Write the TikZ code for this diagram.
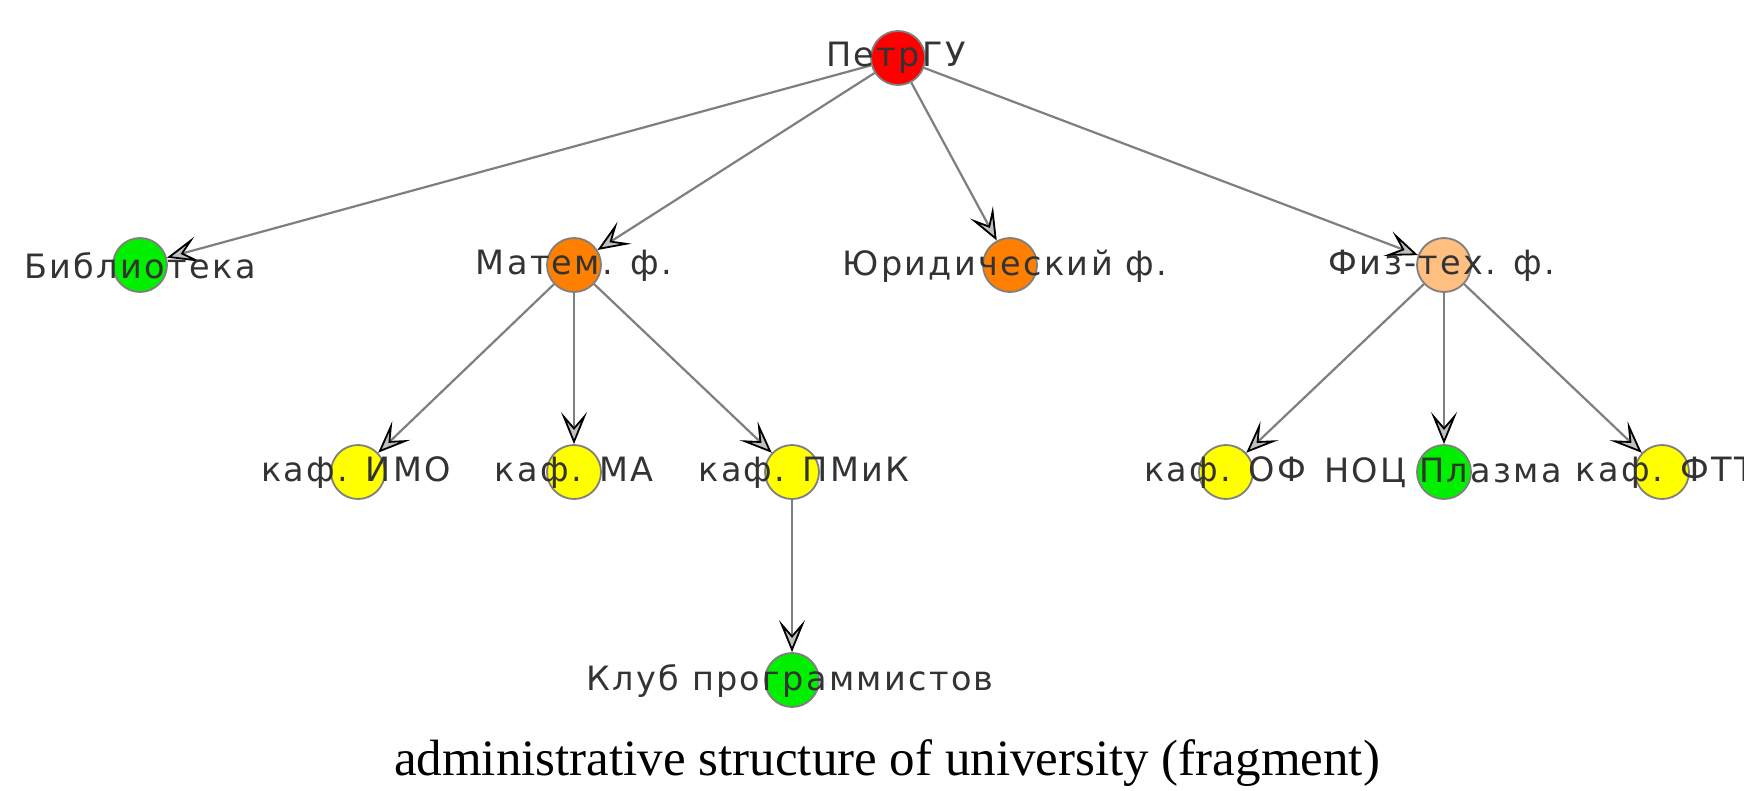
\documentclass[tikz,border=0pt]{standalone}
\usepackage{fontspec}
\setmainfont{Liberation Serif}
\newfontfamily\lblfont[LetterSpace=7]{DejaVu Sans}
\usetikzlibrary{arrows.meta}
\definecolor{nred}{HTML}{FF0000}
\definecolor{norange}{HTML}{FF8000}
\definecolor{npeach}{HTML}{FFBF80}
\definecolor{nyellow}{HTML}{FFFF00}
\definecolor{ngreen}{HTML}{00F000}
\definecolor{txt}{HTML}{333333}
\definecolor{edgec}{HTML}{7F7F7F}
\tikzset{
  dot/.style={circle, draw=edgec, line width=1.8pt, minimum size=54pt, inner sep=0pt},
  lbl/.style={font=\lblfont\fontsize{33.5}{36}\selectfont, text=txt, inner sep=0pt},
  edge/.style={draw=edgec, line width=2.2pt, -{Stealth[length=32pt, width=26pt, inset=15pt, color=black, fill=gray!50, line width=1.8pt]}},
}
\begin{document}
\begin{tikzpicture}[x=1pt,y=-1pt]
\useasboundingbox (0,0) rectangle (1744,790);
\clip (0,0) rectangle (1744,790);
\fill[white] (0,0) rectangle (1744,790);
% nodes (circles)
\node[dot, fill=nred]    (petr) at (898,58)  {};
\node[dot, fill=ngreen]  (bib)  at (140,265) {};
\node[dot, fill=norange] (mat)  at (574,265) {};
\node[dot, fill=norange] (jur)  at (1010,265) {};
\node[dot, fill=npeach]  (fiz)  at (1444,265) {};
\node[dot, fill=nyellow] (imo)  at (358,472) {};
\node[dot, fill=nyellow] (ma)   at (574,472) {};
\node[dot, fill=nyellow] (pmik) at (792,472) {};
\node[dot, fill=nyellow] (of)   at (1226,472) {};
\node[dot, fill=ngreen]  (noc)  at (1444,472) {};
\node[dot, fill=nyellow] (ftt)  at (1662,472) {};
\node[dot, fill=ngreen]  (klub) at (792,680) {};
% edges
\draw[edge] (petr) -- (bib);
\draw[edge] (petr) -- (mat);
\draw[edge] (petr) -- (jur);
\draw[edge] (petr) -- (fiz);
\draw[edge] (mat) -- (imo);
\draw[edge] (mat) -- (ma);
\draw[edge] (mat) -- (pmik);
\draw[edge] (pmik) -- (klub);
\draw[edge] (fiz) -- (of);
\draw[edge] (fiz) -- (noc);
\draw[edge] (fiz) -- (ftt);
% labels
\node[lbl] (lpetr) at (896,58)  {ПетрГУ};
\node[lbl] (lbib)  at (140,266) {Библиотека};
\node[lbl] (lmat)  at (574,266) {Матем. ф.};
\node[lbl] (ljur)  at (1005,266) {Юридический ф.};
\node[lbl] (lfiz)  at (1442,266) {Физ-тех. ф.};
\node[lbl] (limo)  at (356,473) {каф. ИМО};
\node[lbl] (lma)   at (574,473) {каф. МА};
\node[lbl] (lpmik) at (804,473) {каф. ПМиК};
\node[lbl] (lof)   at (1225,473) {каф. ОФ};
\node[lbl] (lnoc)  at (1443,473) {НОЦ Плазма};
\node[lbl] (lftt)  at (1665,473) {каф. ФТТ};
\node[lbl] (lklub) at (790,681) {Клуб программистов};
% caption
\node[font=\fontsize{51}{56}\selectfont, inner sep=0pt] (cap) at (887,763) {administrative structure of university (fragment)};
\end{tikzpicture}
\end{document}
